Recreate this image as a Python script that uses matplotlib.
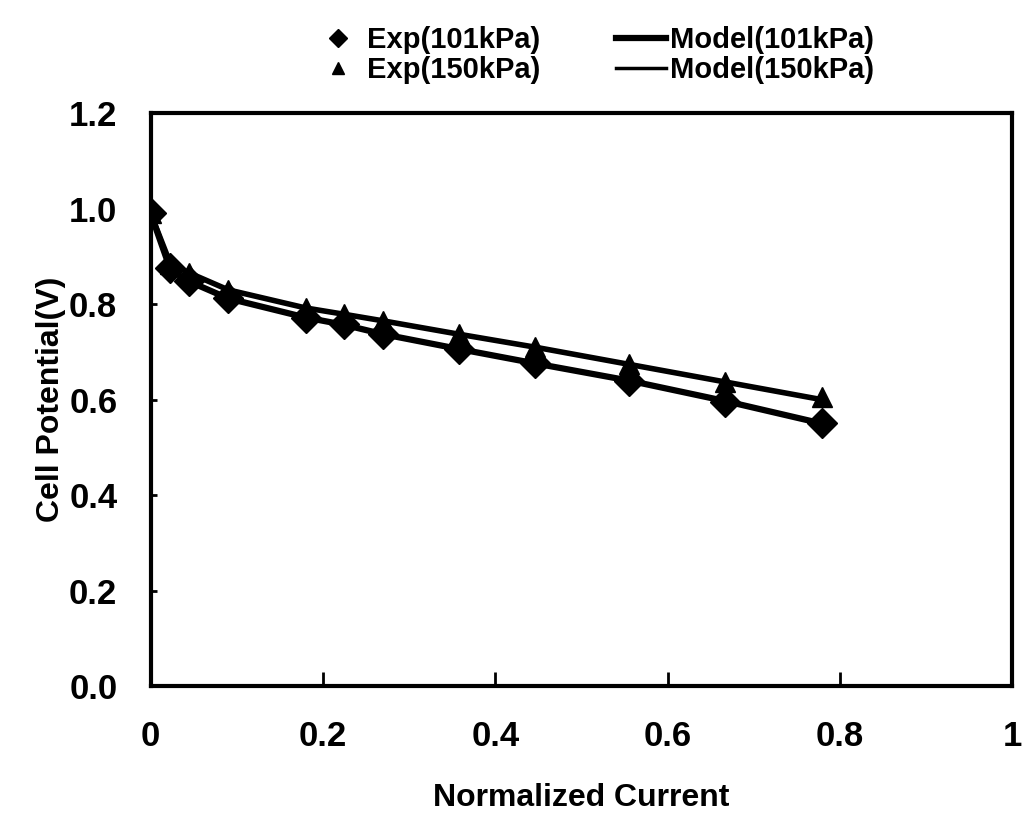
import matplotlib.pyplot as plt

# data
current = [0.0, 0.023, 0.044, 0.09, 0.18, 0.224, 0.27, 0.358, 0.446, 0.555, 0.667, 0.779]
exp_101 = [0.99, 0.875, 0.848, 0.812, 0.772, 0.758, 0.738, 0.706, 0.676, 0.640, 0.596, 0.552]
exp_150 = [0.99, 0.884, 0.866, 0.830, 0.792, 0.779, 0.765, 0.737, 0.710, 0.674, 0.636, 0.605]
model_101 = [0.99, 0.872, 0.848, 0.812, 0.772, 0.757, 0.737, 0.706, 0.676, 0.640, 0.597, 0.550]
model_150 = [0.99, 0.884, 0.866, 0.830, 0.792, 0.779, 0.765, 0.737, 0.710, 0.674, 0.637, 0.600]

xticks = [0, 0.2, 0.4, 0.6, 0.8, 1]
xticklabels = ['0', '0.2', '0.4', '0.6', '0.8', '1']
yticks = [0.0, 0.2, 0.4, 0.6, 0.8, 1.0, 1.2]

plt.rcParams['font.family'] = ['Liberation Sans', 'DejaVu Sans']
plt.rcParams['font.weight'] = 'bold'
plt.rcParams['axes.labelweight'] = 'bold'

fig = plt.figure(figsize=(10.32, 8.14), dpi=100)
ax = fig.add_axes([0.146, 0.157, 0.835, 0.704])

# model curves
l1, = ax.plot(current, model_101, color='black', lw=4.5, label='Model(101kPa)')
l2, = ax.plot(current, model_150, color='black', lw=4, label='Model(150kPa)')

# experiment points
m1, = ax.plot(current, exp_101, 'D', color='black', ms=15, label='Exp(101kPa)')
m2, = ax.plot(current, exp_150, '^', color='black', ms=15, label='Exp(150kPa)')

ax.set_xlim(0, 1)
ax.set_ylim(0, 1.2)
ax.set_xticks(xticks)
ax.set_xticklabels(xticklabels)
ax.set_yticks(yticks)
ax.set_yticklabels([f'{v:.1f}' for v in yticks])
ax.tick_params(axis='both', direction='in', length=10, width=2, labelsize=25, pad=24)
ax.tick_params(axis='y', length=4, pad=24)
for s in ax.spines.values():
    s.set_linewidth(3)

ax.set_xlabel('Normalized Current', fontsize=23, labelpad=22)
ax.set_ylabel('Cell Potential(V)', fontsize=23, labelpad=2)

leg = fig.legend([m1, m2, l1, l2], ['Exp(101kPa)', 'Exp(150kPa)', 'Model(101kPa)', 'Model(150kPa)'],
                 ncol=2, loc='upper center', bbox_to_anchor=(0.575, 1.0), frameon=False,
                 fontsize=21, handlelength=1.7, handletextpad=0.15, columnspacing=2.6,
                 labelspacing=0.05, markerscale=0.6)
leg.get_lines()[3].set_linewidth(2.5)

plt.savefig('out.png', dpi=100)
